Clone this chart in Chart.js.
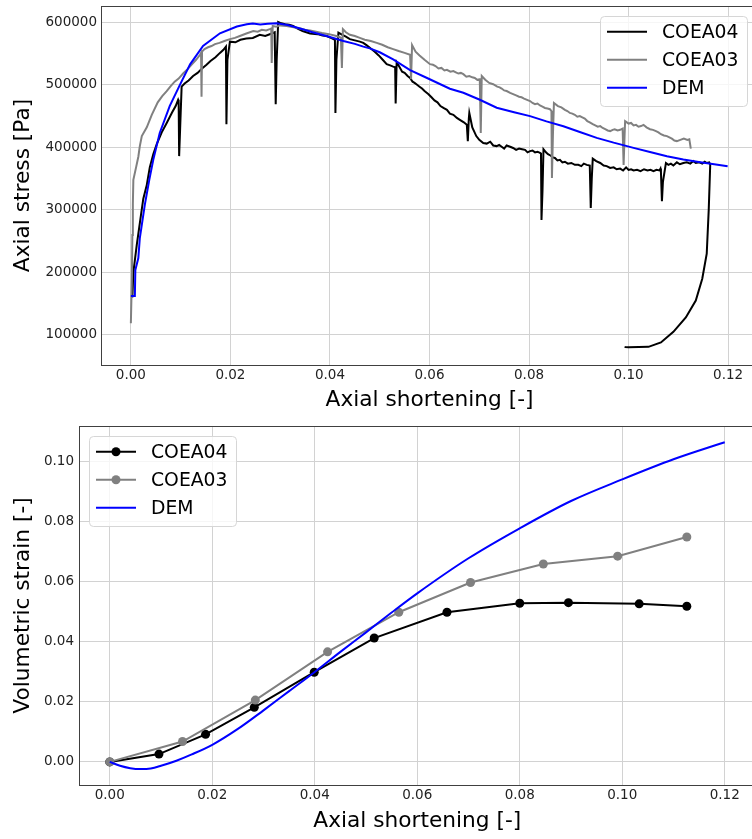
<!DOCTYPE html>
<html>
<head>
<meta charset="utf-8">
<script src="https://cdn.jsdelivr.net/npm/chart.js@4.4.1/dist/chart.umd.min.js"></script>
<style>
  html, body { margin: 0; padding: 0; background: #fff; overflow: hidden; }
  .panel { position: absolute; left: 0; }
  #top { top: 0; }
  #bottom { top: 420px; }
</style>
</head>
<body>
<div class="panel" id="top"><canvas id="stressChart" width="760" height="420"></canvas></div>
<div class="panel" id="bottom"><canvas id="volChart" width="760" height="419"></canvas></div>
<script>
// Axial stress [Pa] against axial shortening [-]
const coea04Strain = [0.0003, 0.0005, 0.0012, 0.0020, 0.0025, 0.0032, 0.0038, 0.0045, 0.0052, 0.0062, 0.0072, 0.0083, 0.0090, 0.0095, 0.0096, 0.0097, 0.0099, 0.0102, 0.0108, 0.0116, 0.0125, 0.0134, 0.0143, 0.0152, 0.0160, 0.0170, 0.0179, 0.0186, 0.0191, 0.0192, 0.0194, 0.0199, 0.0210, 0.0220, 0.0232, 0.0245, 0.0259, 0.0270, 0.0283, 0.0289, 0.0291, 0.0293, 0.0296, 0.0300, 0.0310, 0.0318, 0.0326, 0.0335, 0.0345, 0.0360, 0.0375, 0.0385, 0.0393, 0.0402, 0.0410, 0.0411, 0.0413, 0.0417, 0.0425, 0.0432, 0.0440, 0.0450, 0.0460, 0.0467, 0.0474, 0.0482, 0.0490, 0.0498, 0.0506, 0.0514, 0.0521, 0.0527, 0.0531, 0.0532, 0.0534, 0.0540, 0.0545, 0.0550, 0.0556, 0.0561, 0.0566, 0.0570, 0.0575, 0.0580, 0.0585, 0.0590, 0.0598, 0.0604, 0.0610, 0.0616, 0.0622, 0.0628, 0.0635, 0.0641, 0.0648, 0.0655, 0.0661, 0.0669, 0.0675, 0.0677, 0.0679, 0.0680, 0.0686, 0.0694, 0.0700, 0.0708, 0.0715, 0.0722, 0.0728, 0.0735, 0.0740, 0.0745, 0.0750, 0.0755, 0.0762, 0.0768, 0.0774, 0.0780, 0.0786, 0.0792, 0.0797, 0.0802, 0.0807, 0.0812, 0.0817, 0.0822, 0.0824, 0.0825, 0.0827, 0.0829, 0.0834, 0.0838, 0.0843, 0.0848, 0.0852, 0.0857, 0.0862, 0.0867, 0.0872, 0.0878, 0.0885, 0.0892, 0.0899, 0.0905, 0.0910, 0.0916, 0.0922, 0.0924, 0.0926, 0.0928, 0.0935, 0.0943, 0.0950, 0.0956, 0.0963, 0.0970, 0.0976, 0.0983, 0.0989, 0.0995, 0.1000, 0.1005, 0.1010, 0.1017, 0.1024, 0.1031, 0.1038, 0.1044, 0.1050, 0.1056, 0.1062, 0.1064, 0.1065, 0.1067, 0.1069, 0.1075, 0.1080, 0.1085, 0.1090, 0.1097, 0.1103, 0.1110, 0.1117, 0.1124, 0.1130, 0.1135, 0.1142, 0.1148, 0.1153, 0.1157, 0.1162, 0.1164, 0.1161, 0.1157, 0.1148, 0.1135, 0.1115, 0.1090, 0.1065, 0.1040, 0.1000, 0.0993, 0.0992];
const coea04Stress = [160000, 200000, 245000, 290000, 318000, 340000, 368000, 389000, 405000, 424000, 439000, 456000, 466000, 476000, 474000, 386000, 430000, 497000, 502000, 507000, 514000, 519000, 526000, 532000, 538000, 544000, 551000, 556000, 561000, 437000, 540000, 569000, 568000, 572000, 574000, 575000, 580000, 578000, 582000, 584000, 469000, 540000, 600500, 599000, 597000, 596000, 594000, 590000, 586000, 582000, 581000, 579000, 578000, 575000, 572000, 455000, 540000, 583500, 580000, 577000, 573000, 571000, 569000, 567000, 563000, 558000, 553000, 547000, 540000, 533000, 531000, 529000, 528000, 470000, 536000, 528000, 521000, 519000, 514000, 511000, 505000, 503000, 500000, 497000, 494000, 490000, 485000, 480000, 475000, 472000, 466000, 463000, 460000, 454000, 452000, 447000, 444000, 440000, 436000, 410000, 446000, 455000, 432000, 418000, 412000, 407000, 406000, 409000, 403000, 402000, 404000, 401000, 398000, 403000, 401000, 399000, 396000, 398000, 397000, 396000, 392000, 394000, 395000, 392000, 393000, 391000, 390000, 284000, 330000, 397000, 392000, 389000, 387000, 384000, 383000, 379000, 380000, 376000, 377000, 374000, 375000, 372000, 372000, 370000, 374000, 372000, 371000, 303000, 350000, 382000, 378000, 375000, 371000, 370000, 367000, 368000, 365000, 366000, 363000, 368000, 364000, 365000, 363000, 364000, 362000, 365000, 363000, 364000, 362000, 364000, 363000, 366000, 360000, 314000, 345000, 375000, 372000, 374000, 371000, 376000, 373000, 375000, 376000, 374000, 378000, 375000, 376000, 374000, 377000, 375000, 376000, 372000, 300000, 230000, 190000, 155000, 128000, 105000, 88000, 81000, 80500, 80800, 81000, 89000];

const coea03Strain = [0.0000, 0.0002, 0.0003, 0.0004, 0.0005, 0.0011, 0.0015, 0.0018, 0.0022, 0.0032, 0.0042, 0.0054, 0.0063, 0.0072, 0.0080, 0.0088, 0.0096, 0.0105, 0.0114, 0.0123, 0.0131, 0.0139, 0.0141, 0.0142, 0.0143, 0.0148, 0.0155, 0.0162, 0.0169, 0.0178, 0.0188, 0.0199, 0.0209, 0.0219, 0.0232, 0.0246, 0.0255, 0.0263, 0.0272, 0.0279, 0.0282, 0.0283, 0.0285, 0.0292, 0.0300, 0.0313, 0.0327, 0.0340, 0.0350, 0.0360, 0.0372, 0.0384, 0.0398, 0.0413, 0.0420, 0.0422, 0.0424, 0.0426, 0.0432, 0.0440, 0.0450, 0.0460, 0.0470, 0.0482, 0.0494, 0.0505, 0.0516, 0.0527, 0.0538, 0.0550, 0.0561, 0.0563, 0.0565, 0.0572, 0.0580, 0.0590, 0.0601, 0.0607, 0.0612, 0.0618, 0.0624, 0.0630, 0.0635, 0.0642, 0.0648, 0.0653, 0.0658, 0.0663, 0.0668, 0.0674, 0.0680, 0.0686, 0.0691, 0.0696, 0.0701, 0.0703, 0.0705, 0.0712, 0.0720, 0.0728, 0.0736, 0.0741, 0.0745, 0.0750, 0.0755, 0.0762, 0.0768, 0.0774, 0.0780, 0.0785, 0.0790, 0.0796, 0.0802, 0.0807, 0.0812, 0.0817, 0.0822, 0.0827, 0.0832, 0.0837, 0.0842, 0.0845, 0.0846, 0.0848, 0.0850, 0.0858, 0.0865, 0.0872, 0.0877, 0.0882, 0.0887, 0.0892, 0.0897, 0.0902, 0.0907, 0.0912, 0.0917, 0.0922, 0.0928, 0.0933, 0.0938, 0.0943, 0.0948, 0.0953, 0.0958, 0.0963, 0.0968, 0.0972, 0.0978, 0.0983, 0.0988, 0.0990, 0.0992, 0.0993, 0.1000, 0.1005, 0.1010, 0.1015, 0.1020, 0.1025, 0.1030, 0.1036, 0.1043, 0.1049, 0.1055, 0.1060, 0.1065, 0.1071, 0.1077, 0.1082, 0.1087, 0.1092, 0.1097, 0.1104, 0.1111, 0.1118, 0.1122, 0.1125];
const coea03Stress = [118700, 190000, 260000, 310000, 348000, 370000, 385000, 402000, 418000, 432000, 452000, 472000, 482000, 490000, 498000, 505000, 510000, 518000, 525000, 533000, 540000, 548000, 551000, 481000, 553000, 557000, 560000, 562000, 565000, 567000, 570000, 573000, 575000, 578000, 582000, 586000, 585000, 588000, 587000, 589000, 590000, 535000, 594000, 593000, 595000, 594000, 592000, 590000, 588000, 587000, 585000, 583000, 581000, 578000, 576000, 575000, 527000, 589000, 584000, 580000, 578000, 575000, 572000, 570000, 567000, 564000, 560000, 557000, 554000, 551000, 548000, 509000, 563500, 553000, 547000, 540000, 533000, 532000, 530000, 526000, 527000, 523000, 524000, 521000, 522000, 520000, 518000, 519000, 517000, 513000, 514000, 512000, 511000, 508000, 509000, 423000, 514000, 508000, 503000, 501000, 497000, 496000, 494000, 491000, 490000, 487000, 485000, 483000, 481000, 480000, 478000, 476000, 474000, 471000, 469000, 470000, 467000, 465000, 463000, 462000, 461000, 458000, 351000, 420000, 471000, 466000, 464000, 460000, 458000, 455000, 454000, 452000, 449000, 450000, 448000, 446000, 442000, 440000, 437000, 435000, 433000, 434000, 431000, 429000, 427000, 426000, 428000, 429000, 427000, 428000, 430000, 372000, 420000, 442000, 438000, 439000, 435000, 436000, 433000, 434000, 436000, 432000, 429000, 428000, 426000, 424000, 421000, 419000, 418000, 416000, 414000, 411000, 410000, 412000, 414000, 412000, 413000, 398000];

const demStrain = [0.0000, 0.0008, 0.0009, 0.0015, 0.0018, 0.0028, 0.0037, 0.0045, 0.0058, 0.0078, 0.0099, 0.0119, 0.0145, 0.0179, 0.0213, 0.0233, 0.0245, 0.0260, 0.0275, 0.0293, 0.0315, 0.0340, 0.0365, 0.0393, 0.0427, 0.0450, 0.0467, 0.0480, 0.0500, 0.0527, 0.0561, 0.0594, 0.0641, 0.0668, 0.0700, 0.0735, 0.0770, 0.0802, 0.0835, 0.0869, 0.0902, 0.0936, 0.0970, 0.1010, 0.1043, 0.1077, 0.1110, 0.1144, 0.1172, 0.1199];
const demStress = [162500, 162500, 204000, 223000, 255000, 308000, 348000, 380000, 423000, 466000, 500600, 532700, 562000, 582400, 593100, 596800, 598200, 596500, 597500, 598400, 595500, 589900, 584000, 578000, 570000, 565500, 561000, 558300, 552000, 540700, 523600, 511300, 493700, 487300, 476500, 463300, 456000, 449900, 441500, 433800, 424500, 415200, 407500, 399200, 392500, 385700, 380500, 376100, 372800, 369700];

const shorteningTicks = [0, 0.02, 0.04, 0.06, 0.08, 0.10, 0.12];
const stressTicks = [100000, 200000, 300000, 400000, 500000, 600000];

// Volumetric strain [-] against axial shortening [-]
const coea04VolX = [0, 0.0096, 0.0187, 0.0282, 0.0399, 0.0516, 0.0658, 0.0800, 0.0895, 0.1033, 0.1126];
const coea04Vol = [0, 0.0026, 0.0092, 0.0182, 0.0299, 0.0413, 0.0499, 0.0529, 0.0531, 0.0527, 0.0519];
const coea03VolX = [0, 0.0142, 0.0284, 0.0425, 0.0564, 0.0704, 0.0846, 0.0991, 0.1126];
const coea03Vol = [0, 0.0068, 0.0206, 0.0367, 0.0499, 0.0598, 0.0660, 0.0686, 0.0750];
const demVolX = [0, 0.002, 0.004, 0.006, 0.008, 0.010, 0.013, 0.016, 0.020, 0.025, 0.030, 0.035, 0.040, 0.045, 0.050, 0.055, 0.060, 0.070, 0.080, 0.090, 0.100, 0.110, 0.120];
const demVol = [0, -0.0013, -0.0021, -0.0024, -0.0022, -0.0013, 0.0004, 0.0025, 0.0057, 0.0110, 0.0172, 0.0236, 0.0300, 0.0367, 0.0432, 0.0498, 0.0562, 0.0679, 0.0779, 0.0870, 0.0942, 0.1009, 0.1066];
const volTicks = [0, 0.02, 0.04, 0.06, 0.08, 0.10];

const FONT = "'DejaVu Sans', sans-serif";

function pairs(xs, ys) {
  return xs.map((x, i) => ({ x: x, y: ys[i] }));
}

function axis(o) {
  const vertical = o.position === 'left';
  return {
    type: 'linear',
    position: o.position,
    min: o.min,
    max: o.max,
    afterBuildTicks: s => { s.ticks = o.ticks.map(v => ({ value: v })); },
    // fixed axis size, no extra room for edge labels
    afterFit: s => {
      if (vertical) s.width = o.size; else s.height = o.size;
      s.paddingTop = 0; s.paddingBottom = 0;
      s.paddingLeft = 0; s.paddingRight = 0;
    },
    grid: { color: '#d2d2d2', lineWidth: 1, drawTicks: false },
    border: { display: false },
    ticks: {
      font: { family: FONT, size: 13.5 },
      color: '#222',
      padding: o.pad,
      autoSkip: false,
      maxRotation: 0,
      callback: o.fmt
    },
    title: {
      display: true,
      text: o.title,
      color: '#000',
      font: { family: FONT, size: 21.7 },
      padding: vertical ? { top: 10, bottom: 0 } : { top: 0, bottom: o.titlePad }
    }
  };
}

// plot frame over the lines
const frame = {
  id: 'frame',
  afterDatasetsDraw(chart) {
    const { ctx, chartArea: a } = chart;
    ctx.save();
    ctx.strokeStyle = '#404040';
    ctx.lineWidth = 1;
    ctx.strokeRect(a.left + 0.5, a.top + 0.5, a.right - a.left, a.bottom - a.top);
    ctx.restore();
  }
};

// boxed legend inside the plot
const boxLegend = {
  id: 'boxLegend',
  afterDraw(chart, args, opts) {
    const { ctx, chartArea: a } = chart;
    const w = 147, h = 90;
    const x = opts.side === 'right' ? a.right - 11 - w : a.left + 10;
    const y = a.top + 10;
    ctx.save();
    ctx.beginPath();
    ctx.roundRect(x + 0.5, y + 0.5, w, h, 4);
    ctx.fillStyle = 'rgba(255,255,255,0.8)';
    ctx.fill();
    ctx.strokeStyle = '#d6d6d6';
    ctx.lineWidth = 1;
    ctx.stroke();
    chart.data.datasets.forEach((ds, i) => {
      const cy = y + 15.7 + i * 28;
      ctx.beginPath();
      ctx.moveTo(x + 7, cy);
      ctx.lineTo(x + 47, cy);
      ctx.strokeStyle = ds.borderColor;
      ctx.lineWidth = 2;
      ctx.stroke();
      if (ds.pointRadius > 0) {
        ctx.beginPath();
        ctx.arc(x + 27, cy, ds.pointRadius, 0, Math.PI * 2);
        ctx.fillStyle = ds.borderColor;
        ctx.fill();
      }
      ctx.fillStyle = '#000';
      ctx.font = '18.8px ' + FONT;
      ctx.textBaseline = 'middle';
      ctx.fillText(ds.label, x + 62, cy + 1);
    });
    ctx.restore();
  }
};

Chart.register(frame, boxLegend);

function line(label, data, color, order, radius) {
  return {
    label: label,
    data: data,
    borderColor: color,
    backgroundColor: color,
    borderWidth: 2,
    pointRadius: radius,
    pointBorderWidth: 0,
    pointBackgroundColor: color,
    fill: false,
    tension: 0,
    order: order
  };
}

const baseOptions = {
  responsive: false,
  animation: false,
  events: [],
  plugins: { legend: { display: false }, tooltip: { enabled: false } }
};

new Chart(document.getElementById('stressChart'), {
  type: 'line',
  data: {
    datasets: [
      line('COEA04', pairs(coea04Strain, coea04Stress), '#000000', 2, 0),
      line('COEA03', pairs(coea03Strain, coea03Stress), '#808080', 1, 0),
      line('DEM', pairs(demStrain, demStress), '#0000ff', 0, 0)
    ]
  },
  options: Object.assign({}, baseOptions, {
    layout: { padding: { top: 6, right: 2, left: 0, bottom: 0 } },
    plugins: Object.assign({}, baseOptions.plugins, { boxLegend: { side: 'right' } }),
    scales: {
      x: axis({ position: 'bottom', min: -0.006, max: 0.126, ticks: shorteningTicks, size: 55, pad: 2, titlePad: 7,
        fmt: v => v.toFixed(2), title: 'Axial shortening [-]' }),
      y: axis({ position: 'left', min: 52000, max: 626000, ticks: stressTicks, size: 101, pad: 4,
        fmt: v => String(v), title: 'Axial stress [Pa]' })
    }
  })
});

const demVolLine = line('DEM', pairs(demVolX, demVol), '#0000ff', 0, 0);
demVolLine.cubicInterpolationMode = 'monotone';

new Chart(document.getElementById('volChart'), {
  type: 'line',
  data: {
    datasets: [
      line('COEA04', pairs(coea04VolX, coea04Vol), '#000000', 2, 4.5),
      line('COEA03', pairs(coea03VolX, coea03Vol), '#808080', 1, 4.5),
      demVolLine
    ]
  },
  options: Object.assign({}, baseOptions, {
    layout: { padding: { top: 6, right: 3, left: 0, bottom: 0 } },
    plugins: Object.assign({}, baseOptions.plugins, { boxLegend: { side: 'left' } }),
    scales: {
      x: axis({ position: 'bottom', min: -0.006, max: 0.126, ticks: shorteningTicks, size: 54, pad: 2, titlePad: 5,
        fmt: v => v.toFixed(2), title: 'Axial shortening [-]' }),
      y: axis({ position: 'left', min: -0.0077, max: 0.112, ticks: volTicks, size: 79, pad: 5,
        fmt: v => v.toFixed(2), title: 'Volumetric strain [-]' })
    }
  })
});
</script>
</body>
</html>
